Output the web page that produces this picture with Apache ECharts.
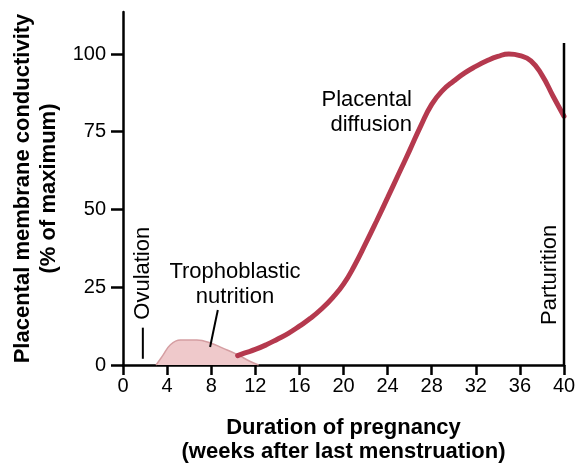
<!DOCTYPE html>
<html>
<head>
<meta charset="utf-8">
<script src="https://cdn.jsdelivr.net/npm/echarts@6/dist/echarts.min.js"></script>
<style>html,body{margin:0;padding:0;background:#fff}#c{width:582px;height:470px}</style>
</head>
<body>
<div id="c"></div>
<script>
// Placental diffusion curve: [week, % of maximum]
const placentalWeeks  = [10.4, 11, 12, 13, 14, 15, 16, 17, 18, 19, 20, 21, 22, 23, 24, 25, 26, 27, 28, 29, 30, 31, 32, 33, 34, 35, 36, 37, 38, 39, 40];
const placentalValues = [3, 3.8, 5, 6.5, 8.3, 10.2, 12.5, 15, 18, 21.6, 26, 32, 39, 46.3, 53.8, 61.4, 69, 76.8, 83.8, 88.3, 91.3, 93.9, 96, 97.8, 99.2, 100, 99.5, 97.8, 93.2, 86.5, 80];
// Trophoblastic nutrition area
const trophoWeeks  = [3, 3.6, 4.3, 5.2, 6.7, 8, 9, 10.3, 11.5, 12.3];
const trophoValues = [0, 3, 6.5, 8, 8, 7, 5.5, 3.5, 1.2, 0];
// ticks
const xTicks = [0, 4, 8, 12, 16, 20, 24, 28, 32, 36, 40];
const yTicks = [0, 25, 50, 75, 100];
// annotation anchors (data coords)
const ovulationWeek = 1.8;
const ovulationLine = [2, 12];
const ovulationTextValue = 29.5;
const parturitionWeek = 40;
const parturitionTop = 103.5;
const parturitionTextValue = 29;
const trophoPointer = [[8.6, 17.7], [7.9, 5.8]];

const FONT = '"Liberation Sans", Arial, Helvetica, sans-serif';
const chart = echarts.init(document.getElementById('c'));
const pts = (xs, ys) => xs.map((x, i) => [x, ys[i]]);

chart.setOption({
  animation: false,
  grid: {left: 123, right: 18, top: 12, bottom: 105},
  xAxis: {
    type: 'value', min: 0, max: 40, interval: 4,
    name: 'Duration of pregnancy\n(weeks after last menstruation)',
    nameLocation: 'middle', nameGap: 51,
    nameTextStyle: {fontFamily: FONT, fontSize: 22, fontWeight: 'bold', color: '#000', lineHeight: 24, verticalAlign: 'top'},
    axisLine: {lineStyle: {color: '#000', width: 2.5}},
    axisTick: {length: 10, lineStyle: {color: '#000', width: 2.5}},
    axisLabel: {fontFamily: FONT, fontSize: 20, color: '#000', margin: 11,
      formatter: v => xTicks.indexOf(v) >= 0 ? String(v) : ''},
    splitLine: {show: false}
  },
  yAxis: {
    type: 'value', min: 0, max: 113.5, interval: 25,
    name: 'Placental membrane conductivity\n(% of maximum)',
    nameLocation: 'middle', nameGap: 58, nameRotate: 90,
    nameTextStyle: {fontFamily: FONT, fontSize: 22, fontWeight: 'bold', color: '#000', lineHeight: 26},
    axisLine: {show: true, lineStyle: {color: '#000', width: 2.5}},
    axisTick: {show: true, length: 12, lineStyle: {color: '#000', width: 2.5}},
    axisLabel: {fontFamily: FONT, fontSize: 20, color: '#000', margin: 17, showMaxLabel: false,
      formatter: v => yTicks.indexOf(v) >= 0 ? String(v) : ''},
    splitLine: {show: false}
  },
  series: [
    {
      type: 'line', data: pts(trophoWeeks, trophoValues), smooth: 0.4, symbol: 'none',
      lineStyle: {color: '#d59ea2', width: 1.5},
      areaStyle: {color: '#efc9cb', opacity: 1},
      z: 2
    },
    {
      type: 'line', data: pts(placentalWeeks, placentalValues), smooth: 0.5, symbol: 'none',
      lineStyle: {color: '#b5394e', width: 5, cap: 'round'},
      z: 3
    }
  ]
});

function px(p) { return chart.convertToPixel({gridIndex: 0}, p); }
function addGraphics() {
  const g = [];
  const a = px([ovulationWeek, ovulationLine[0]]), b = px([ovulationWeek, ovulationLine[1]]);
  g.push({type: 'line', shape: {x1: a[0], y1: a[1], x2: b[0], y2: b[1]}, style: {stroke: '#000', lineWidth: 2}, z: 10});
  const ot = px([ovulationWeek, ovulationTextValue]);
  g.push({type: 'text', x: ot[0], y: ot[1], rotation: Math.PI / 2,
    style: {text: 'Ovulation', font: '22px ' + FONT, fill: '#000', align: 'center', verticalAlign: 'middle'}, z: 10});
  const p0 = px([parturitionWeek, 0]), p1 = px([parturitionWeek, parturitionTop]);
  g.push({type: 'line', shape: {x1: p0[0], y1: p0[1], x2: p1[0], y2: p1[1]}, style: {stroke: '#000', lineWidth: 2.5}, z: 10});
  const pt = px([parturitionWeek, parturitionTextValue]);
  g.push({type: 'text', x: pt[0] - 14, y: pt[1], rotation: Math.PI / 2,
    style: {text: 'Parturition', font: '22px ' + FONT, fill: '#000', align: 'center', verticalAlign: 'middle'}, z: 10});
  const q0 = px(trophoPointer[0]), q1 = px(trophoPointer[1]);
  g.push({type: 'line', shape: {x1: q0[0], y1: q0[1], x2: q1[0], y2: q1[1]}, style: {stroke: '#000', lineWidth: 2}, z: 10});
  g.push({type: 'text', x: 235, y: 284,
    style: {text: 'Trophoblastic\nnutrition', font: '22px ' + FONT, fill: '#000', align: 'center', verticalAlign: 'middle', lineHeight: 25}, z: 10});
  g.push({type: 'text', x: 412, y: 112,
    style: {text: 'Placental\ndiffusion', font: '22px ' + FONT, fill: '#000', align: 'right', verticalAlign: 'middle', lineHeight: 25}, z: 10});
  chart.setOption({graphic: g});
}
addGraphics();
</script>
</body>
</html>
